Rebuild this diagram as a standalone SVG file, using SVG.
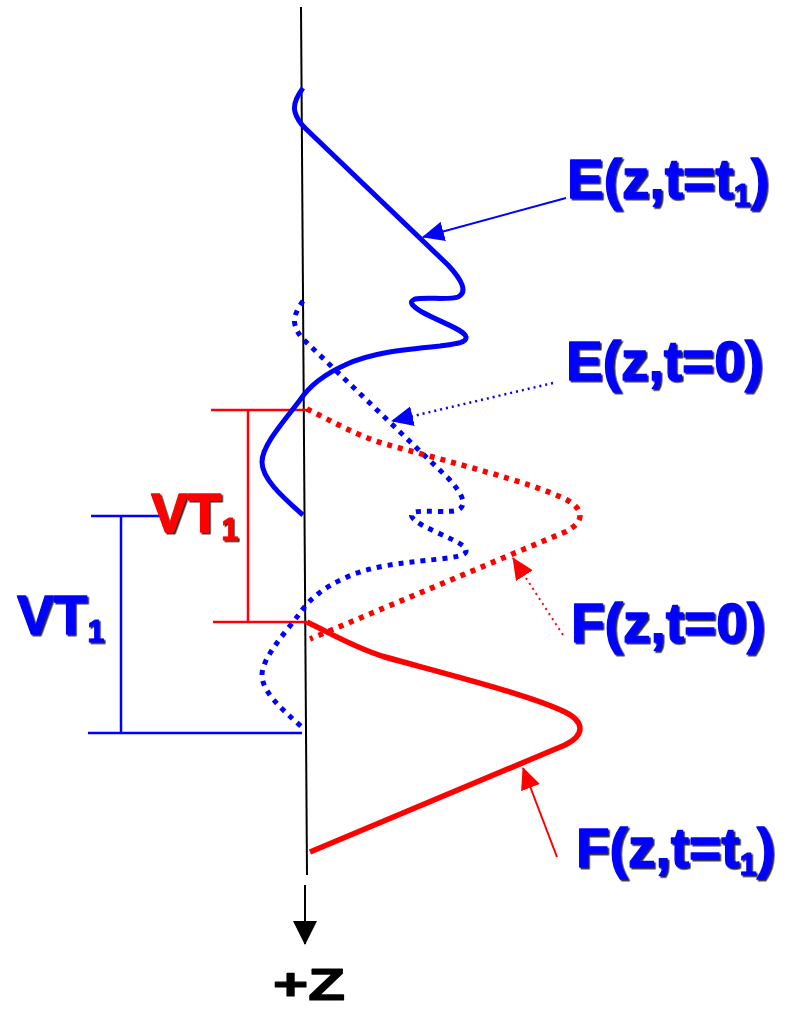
<svg xmlns="http://www.w3.org/2000/svg" width="786" height="1009" viewBox="0 0 786 1009">
<style>
.lbl{font-family:"Liberation Sans",Arial,sans-serif;font-weight:bold;font-size:55px;stroke-width:1.3;stroke-linejoin:round;filter:url(#sh)}
.blue{fill:#0000ff;stroke:#0000ff}
.red{fill:#ff0000;stroke:#ff0000}
.sub{font-size:31px;stroke-width:0.8}
.curveB{fill:none;stroke:#0000ff;stroke-width:5;stroke-linejoin:round}
.curveR{fill:none;stroke:#ff0000;stroke-width:5.5;stroke-linejoin:round}
.dots{stroke-dasharray:5 6}
.brB{stroke:#0000ff;stroke-width:2.5;fill:none}
.brR{stroke:#ff0000;stroke-width:2.5;fill:none}
</style>
<defs>
<filter id="sh" x="-5%" y="-5%" width="115%" height="120%">
<feDropShadow dx="1.6" dy="1.6" stdDeviation="0.4" flood-color="#000" flood-opacity="0.85"/>
</filter>
<marker id="aB" viewBox="0 0 22 20" refX="21" refY="10" markerWidth="22" markerHeight="20" markerUnits="userSpaceOnUse" orient="auto"><path d="M0,0 L22,10 L0,20 z" fill="#0000ff"/></marker>
<marker id="aR" viewBox="0 0 22 20" refX="21" refY="10" markerWidth="22" markerHeight="20" markerUnits="userSpaceOnUse" orient="auto"><path d="M0,0 L22,10 L0,20 z" fill="#ff0000"/></marker>
<marker id="aK" viewBox="0 0 24 24" refX="23" refY="12" markerWidth="24" markerHeight="24" markerUnits="userSpaceOnUse" orient="auto"><path d="M0,0 L24,12 L0,24 z" fill="#000"/></marker>
</defs>
<rect width="786" height="1009" fill="#fff"/>

<g id="axis">
<line x1="301" y1="7" x2="307" y2="875" stroke="#000" stroke-width="2"/>
<line x1="305" y1="885" x2="305" y2="944" stroke="#000" stroke-width="2" marker-end="url(#aK)"/>
<text x="273" y="1000" font-family="Liberation Sans,Arial,sans-serif" font-weight="bold" font-size="44" textLength="72" lengthAdjust="spacingAndGlyphs" fill="#000" stroke="#000" stroke-width="1.2" stroke-linejoin="round">+Z</text>
</g>

<g id="bracket-red">
<line class="brR" x1="211" y1="410" x2="307" y2="410"/>
<line class="brR" x1="248" y1="410" x2="248" y2="622"/>
<line class="brR" x1="213" y1="622" x2="307" y2="622"/>
</g>
<g id="bracket-blue">
<line class="brB" x1="91" y1="516" x2="160" y2="516"/>
<line class="brB" x1="121" y1="516" x2="121" y2="733"/>
<line class="brB" x1="88" y1="733" x2="302" y2="733"/>
</g>

<g id="E-t0">
<path class="curveB dots" transform="translate(0,213)" d="M303,88 C297,96 293,105 295,112 C297,119 300,123 305,128 L448,265 C462,280 468,292 458,297 C450,300 425,297 415,299 C408,302 412,306 422,312 C440,322 465,330 466,337 C467,343 455,344 440,346 C400,350 370,353 345,365 C325,374 310,385 300,400 C285,420 262,445 262,462 C262,478 280,495 303,515"/>
</g>
<g id="F-t0">
<path class="curveR dots" transform="translate(0,-213)" d="M307,622 C330,633 355,648 385,657 C450,675 530,695 565,712 C585,722 585,735 565,745 L310,852"/>
</g>
<g id="E-t1">
<path class="curveB" d="M303,88 C297,96 293,105 295,112 C297,119 300,123 305,128 L448,265 C462,280 468,292 458,297 C450,300 425,297 415,299 C408,302 412,306 422,312 C440,322 465,330 466,337 C467,343 455,344 440,346 C400,350 370,353 345,365 C325,374 310,385 300,400 C285,420 262,445 262,462 C262,478 280,495 303,515"/>
</g>
<g id="F-t1">
<path class="curveR" d="M307,622 C330,633 355,648 385,657 C450,675 530,695 565,712 C585,722 585,735 565,745 L310,852"/>
</g>

<g id="connectors">
<line x1="566" y1="198" x2="423" y2="237" stroke="#0000ff" stroke-width="2" marker-end="url(#aB)"/>
<line x1="553" y1="383" x2="392" y2="421" stroke="#0000ff" stroke-width="2.5" stroke-dasharray="2 4" marker-end="url(#aB)"/>
<line x1="563" y1="635" x2="513" y2="558" stroke="#ff0000" stroke-width="2" stroke-dasharray="2 4" marker-end="url(#aR)"/>
<line x1="557" y1="857" x2="523" y2="768" stroke="#ff0000" stroke-width="2" marker-end="url(#aR)"/>
</g>

<g id="label-E-t1"><text class="lbl blue" x="567" y="198">E(z,t=t<tspan class="sub" dy="8">1</tspan><tspan dy="-8">)</tspan></text></g>
<g id="label-E-t0"><text class="lbl blue" x="566" y="380">E(z,t=0)</text></g>
<g id="label-F-t0"><text class="lbl blue" x="571" y="642">F(z,t=0)</text></g>
<g id="label-F-t1"><text class="lbl blue" x="576" y="867">F(z,t=t<tspan class="sub" dy="8">1</tspan><tspan dy="-8">)</tspan></text></g>
<g id="label-VT-red"><text class="lbl red" x="151" y="532">VT<tspan class="sub" dy="8">1</tspan></text></g>
<g id="label-VT-blue"><text class="lbl blue" x="17" y="634">VT<tspan class="sub" dy="8">1</tspan></text></g>
</svg>
